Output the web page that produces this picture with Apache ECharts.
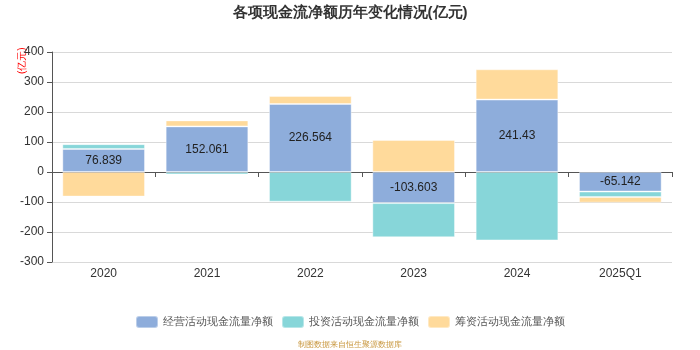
<!DOCTYPE html>
<html>
<head>
<meta charset="utf-8">
<script src="https://cdn.jsdelivr.net/npm/echarts@6/dist/echarts.min.js"></script>
<style>
  html, body { margin: 0; padding: 0; background: #fff; }
  #box { width: 700px; height: 350px; }
</style>
</head>
<body>
<div id="box"></div>
<script>
var years = ["2020", "2021", "2022", "2023", "2024", "2025Q1"];
var operating = [76.839, 152.061, 226.564, -103.603, 241.43, -65.142];
var investing = [16, -8, -99, -114, -228, -18];
var financing = [-82, 20, 27, 107, 101, -19];
var yTicks = { min: -300, max: 400, interval: 100 };

var chart = echarts.init(document.getElementById("box"));

function barSeries(name, data, color, showLabel) {
  return {
    name: name,
    type: "bar",
    stack: "total",
    barWidth: "80%",
    data: data,
    itemStyle: {
      color: color,
      borderColor: "rgba(255,255,255,0.4)",
      borderWidth: 1,
    },
    label: {
      show: showLabel,
      position: "inside",
      color: "#222",
      fontSize: 12,
      formatter: function (p) {
        return p.value;
      },
    },
  };
}

var option = {
  backgroundColor: "#fff",
  title: {
    text: "各项现金流净额历年变化情况(亿元)",
    left: "center",
    top: 0,
    textStyle: { fontSize: 15, fontWeight: "bold", color: "#333" },
  },
  graphic: [
    {
      type: "text",
      left: "center",
      top: 341,
      style: { text: "制图数据来自恒生聚源数据库", fill: "#c8963c", fontSize: 8 },
    },
    {
      type: "text",
      x: 17,
      y: 74,
      rotation: Math.PI / 2,
      style: { text: "(亿元)", fill: "#ff0000", fontSize: 10 },
    },
  ],
  legend: {
    top: 310,
    itemWidth: 22,
    itemHeight: 12,
    itemGap: 8,
    textStyle: { color: "#555", fontSize: 10.5 },
    data: ["经营活动现金流量净额", "投资活动现金流量净额", "筹资活动现金流量净额"],
  },
  grid: { left: 52, right: 28, top: 52, bottom: 88, outerBoundsMode: "none" },
  xAxis: [
    {
      type: "category",
      data: years,
      axisLine: { onZero: true, lineStyle: { color: "#555" } },
      axisTick: { show: true, lineStyle: { color: "#555" } },
      axisLabel: { show: false },
    },
    {
      type: "category",
      data: years,
      position: "bottom",
      axisLine: { show: false, onZero: false },
      axisTick: { show: false },
      axisLabel: { color: "#333", fontSize: 12, margin: 6 },
    },
  ],
  yAxis: {
    type: "value",
    min: yTicks.min,
    max: yTicks.max,
    interval: yTicks.interval,
    axisLine: { show: true, lineStyle: { color: "#555" } },
    axisTick: { show: true, lineStyle: { color: "#555" } },
    axisLabel: { color: "#333", fontSize: 12 },
    splitLine: { lineStyle: { color: "#d9d9d9" } },
  },
  series: [
    barSeries("经营活动现金流量净额", operating, "#8eaddb", true),
    barSeries("投资活动现金流量净额", investing, "#87d6d9", false),
    barSeries("筹资活动现金流量净额", financing, "#ffda9b", false),
  ],
};
chart.setOption(option);
</script>
</body>
</html>
